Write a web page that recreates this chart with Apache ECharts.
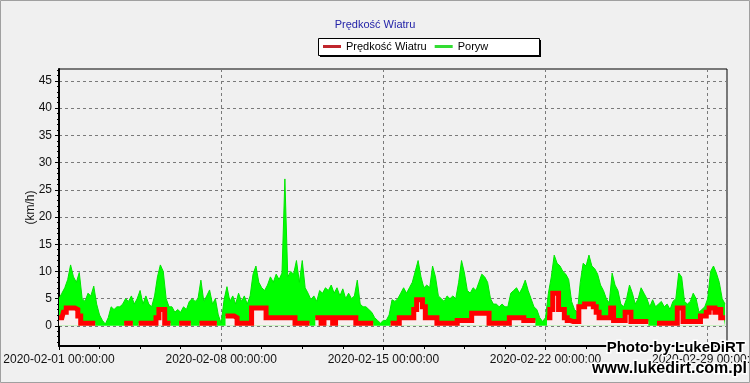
<!DOCTYPE html>
<html><head><meta charset="utf-8">
<script src="https://cdn.jsdelivr.net/npm/echarts@6/dist/echarts.min.js"></script>
<style>html,body{margin:0;padding:0;background:#f0f0f0}#c{width:750px;height:383px}</style>
</head><body><div id="c"></div>
<script>
// time grid: one reading every 3 hours starting 2020-02-01 00:00
const stepHours = 3;
const xTickLabels = ['2020-02-01 00:00:00','2020-02-08 00:00:00','2020-02-15 00:00:00','2020-02-22 00:00:00','2020-02-29 00:00:00'];
const yTickValues = [0,5,10,15,20,25,30,35,40,45];
const seriesNames = ['Prędkość Wiatru','Poryw'];

// Poryw (gust), km/h
const gust = [
5,6,7,8.5,11.2,9,8,9.8,
5,4.5,6,5.5,7.3,4,2,1,
0.3,1.5,3.5,3,3.5,3.5,4,5,
4.5,5.5,4,5,6.5,4,5.5,4,
3.5,5.5,9,11.2,10,5,3.5,3.5,
2.5,3,2.5,3.5,3,4.5,5,4.5,
5,8.4,4.5,5.5,6.6,4,5,2,
0.5,4.8,7.2,4.5,5.5,4,6,4.5,
5.5,4,5.5,9.5,11,8,7,6.5,
7.5,9,8,9.5,8.5,9.7,27,9,
10,9.5,12,8,12,7,6,4.8,
5.5,4.5,6.5,6,7,6.5,7.5,6,
7,5.5,6.8,5,6,5,5.5,8.4,
4,3.5,3.5,3,2.5,1.5,1,0.5,
1,1,2,4.8,4.5,5,6,7,
6,7,8,10,12,9,7,7.5,
7,11,9,5.5,5,4.5,5.5,5,
5.5,5,8,12,9.7,6.5,6,7,
6.5,8,9.5,9,8,5,4,4,
3.5,4,3.5,3.5,6,6.5,7,6,
7,8.4,6.5,5,3.5,3,1.5,0.8,
1.5,6,9,13,11.5,11,10,9.5,
8.5,4.5,3,2.5,8,11.5,11,13,
11,10.5,9.5,7.5,6.5,5,4.2,9.7,
7.5,6.5,4,3.5,5,7.5,6,4,
5,7,6,5,3.5,4.8,3.5,4,
4.5,3.5,4,3,4.5,5,9.7,9,
4.5,4,4.5,6,5,2.5,3,3.5,
5,10,11,9.7,8,5,4
];

// Prędkość Wiatru (speed), km/h ; null = calm (0, not drawn)
const speed = [
1.5,1.5,2.5,3.3,3.3,3.3,3,1.8,
0.5,0.5,0.5,0.5,0.5,null,null,null,
null,null,null,null,null,null,null,0.5,
0.5,0.5,null,null,0.5,0.5,0.5,0.5,
0.5,0.5,1.5,3,3,0.5,0.5,null,
null,null,0.5,0.5,0.5,0.5,null,null,
null,0.5,0.5,0.5,0.5,0.5,0.5,null,
null,null,1.8,1.8,1.8,1.5,0.5,0.5,
0.5,0.5,0.5,3.3,3.3,3.3,3.3,3.3,
1.5,1.5,1.5,1.5,1.5,1.5,1.5,1.5,
1.5,1.5,0.5,0.5,0.5,0.5,0.5,null,
null,1.5,1.5,0.5,1.5,1.5,1.5,0.5,
1.5,1.5,1.5,1.5,1.5,1.5,1.5,0.5,
0.5,0.5,0.5,0.5,0.5,null,null,null,
null,null,null,0.5,0.5,0.5,1.5,1.5,
1.5,1.5,1.5,3,4.8,4.8,3.5,1.5,
1.5,1.5,1.5,0.5,0.5,0.5,0.5,0.5,
0.5,0.5,1,1,1,1,1,2.3,
2.3,2.3,2.3,2.3,2.3,0.5,0.5,0.5,
0.5,0.5,0.5,0.5,1.5,1.5,1.5,1.5,
1.5,1,1,1,1,null,null,null,
null,1.5,3,6,6,3,3,1.5,
1,0.8,0.8,0.8,3.5,3.5,4,4,
4,3.5,2.5,1.5,1.5,1.5,1.5,3.3,
1,1,1,1,2.5,2.5,0.8,0.8,
0.8,0.8,0.8,0.8,null,null,null,0.5,
0.5,0.5,0.5,0.5,0.5,0.5,3.3,3.3,
0.8,0.8,0.8,0.8,0.8,0.8,1.8,1.8,
2.5,3.3,3.3,2.5,3,1.5,1.5
];

const FONT = "'Liberation Sans', Arial, sans-serif";
const gustData = gust.map((v,i)=>[i*stepHours, v]);
const speedData = speed.map((v,i)=>[i*stepHours, v]);
const yMinorTicks = [];
for (let v = -3; v <= 47; v++) yMinorTicks.push(v);

const chart = echarts.init(document.getElementById('c'), null, {renderer:'canvas'});
chart.setOption({
  animation: false,
  backgroundColor: '#f0f0f0',
  title: {
    text: 'Prędkość Wiatru', left: 'center', top: 14,
    textStyle: {color:'#2323a8', fontSize: 11, fontWeight: 'normal', fontFamily: FONT}
  },
  legend: {
    left: 321, top: 39, z: 20, padding: [2,2,2,2],
    itemWidth: 18, itemHeight: 3, itemGap: 8, icon: 'rect',
    textStyle: {color:'#000', fontSize: 11, fontFamily: FONT},
    data: [
      {name: seriesNames[0], itemStyle: {color:'#c0262d'}},
      {name: seriesNames[1], itemStyle: {color:'#33dd33'}}
    ]
  },
  grid: {left: 59, right: 23, top: 69, bottom: 37, containLabel: false, outerBoundsMode: 'none',
         show: true, borderColor:'#000', borderWidth: 1, backgroundColor:'transparent'},
  xAxis: {
    type: 'value', min: 0, max: 692, interval: 168,
    axisLine: {show: true, onZero: false, lineStyle: {color:'#000', width: 2}},
    axisTick: {show: true, length: 4, lineStyle: {color:'#000'}},
    minorTick: {show: true, splitNumber: 4, length: 3, lineStyle: {color:'#000'}},
    axisLabel: {
      color:'#111', fontSize: 12, fontFamily: FONT, margin: 8, showMaxLabel: true, hideOverlap: false,
      formatter: function(v){ return (v % 168 === 0) ? (xTickLabels[v/168] || '') : ''; }
    },
    splitLine: {show: true, lineStyle: {color:'#7a7a7a', type:[3,3], width: 1}}
  },
  yAxis: [{
    type: 'value', min: -3.7, max: 47.2,
    name: '(km/h)', nameLocation: 'middle', nameGap: 22, nameMoveOverlap: false,
    nameTextStyle: {color:'#111', fontSize: 12, fontFamily: FONT},
    axisLine: {show: true, onZero: false, lineStyle: {color:'#000', width: 2}},
    axisTick: {show: true, length: 4, customValues: yTickValues, lineStyle: {color:'#000'}},
    axisLabel: {color:'#111', fontSize: 12, fontFamily: FONT, margin: 7, customValues: yTickValues},
    splitLine: {show: true, lineStyle: {color:'#7a7a7a', type:[3,3], width: 1}}
  }, {
    type: 'value', min: -3.7, max: 47.2, position: 'left',
    axisLine: {show: false},
    axisTick: {show: true, length: 2, customValues: yMinorTicks, lineStyle: {color:'#000'}},
    axisLabel: {show: false},
    splitLine: {show: false}
  }],
  series: [
    {
      name: seriesNames[1], type: 'line', data: gustData, yAxisIndex: 0,
      showSymbol: false, symbol: 'none', z: 2,
      lineStyle: {color:'#00e600', width: 1},
      itemStyle: {color:'#33dd33'},
      areaStyle: {color:'#00ff00', opacity: 1}
    },
    {
      name: seriesNames[0], type: 'line', data: speedData, yAxisIndex: 0,
      step: 'middle', showSymbol: false, symbol: 'none', z: 3, connectNulls: false,
      lineStyle: {color:'#ff0000', width: 5, join: 'miter'},
      itemStyle: {color:'#c0262d'},
      areaStyle: {color:'#f7eeee', opacity: 1}
    }
  ],
  graphic: [
    {type:'rect', z: 1, shape:{x:320, y:40, width:221, height:17}, style:{fill:'#000'}},
    {type:'rect', z: 1, shape:{x:318.5, y:38.5, width:221, height:17}, style:{fill:'#fff', stroke:'#000', lineWidth:1}},
    {type:'rect', z: 100, shape:{x:0.5, y:0.5, width:749, height:382}, style:{fill:'none', stroke:'#a0a0a0', lineWidth:1}},
    {type:'text', z: 100, x: 745, y: 348, style:{text:'Photo by LukeDiRT', font:"bold 15px 'Liberation Sans', Arial, sans-serif", fill:'#000', stroke:'#fff', lineWidth:3, strokeFirst: true, textAlign:'right', textVerticalAlign:'middle'}},
    {type:'text', z: 100, x: 747, y: 369, style:{text:'www.lukedirt.com.pl', font:"bold 16px 'Liberation Sans', Arial, sans-serif", fill:'#000', stroke:'#fff', lineWidth:3, strokeFirst: true, textAlign:'right', textVerticalAlign:'middle'}}
  ]
});
</script>
</body></html>
